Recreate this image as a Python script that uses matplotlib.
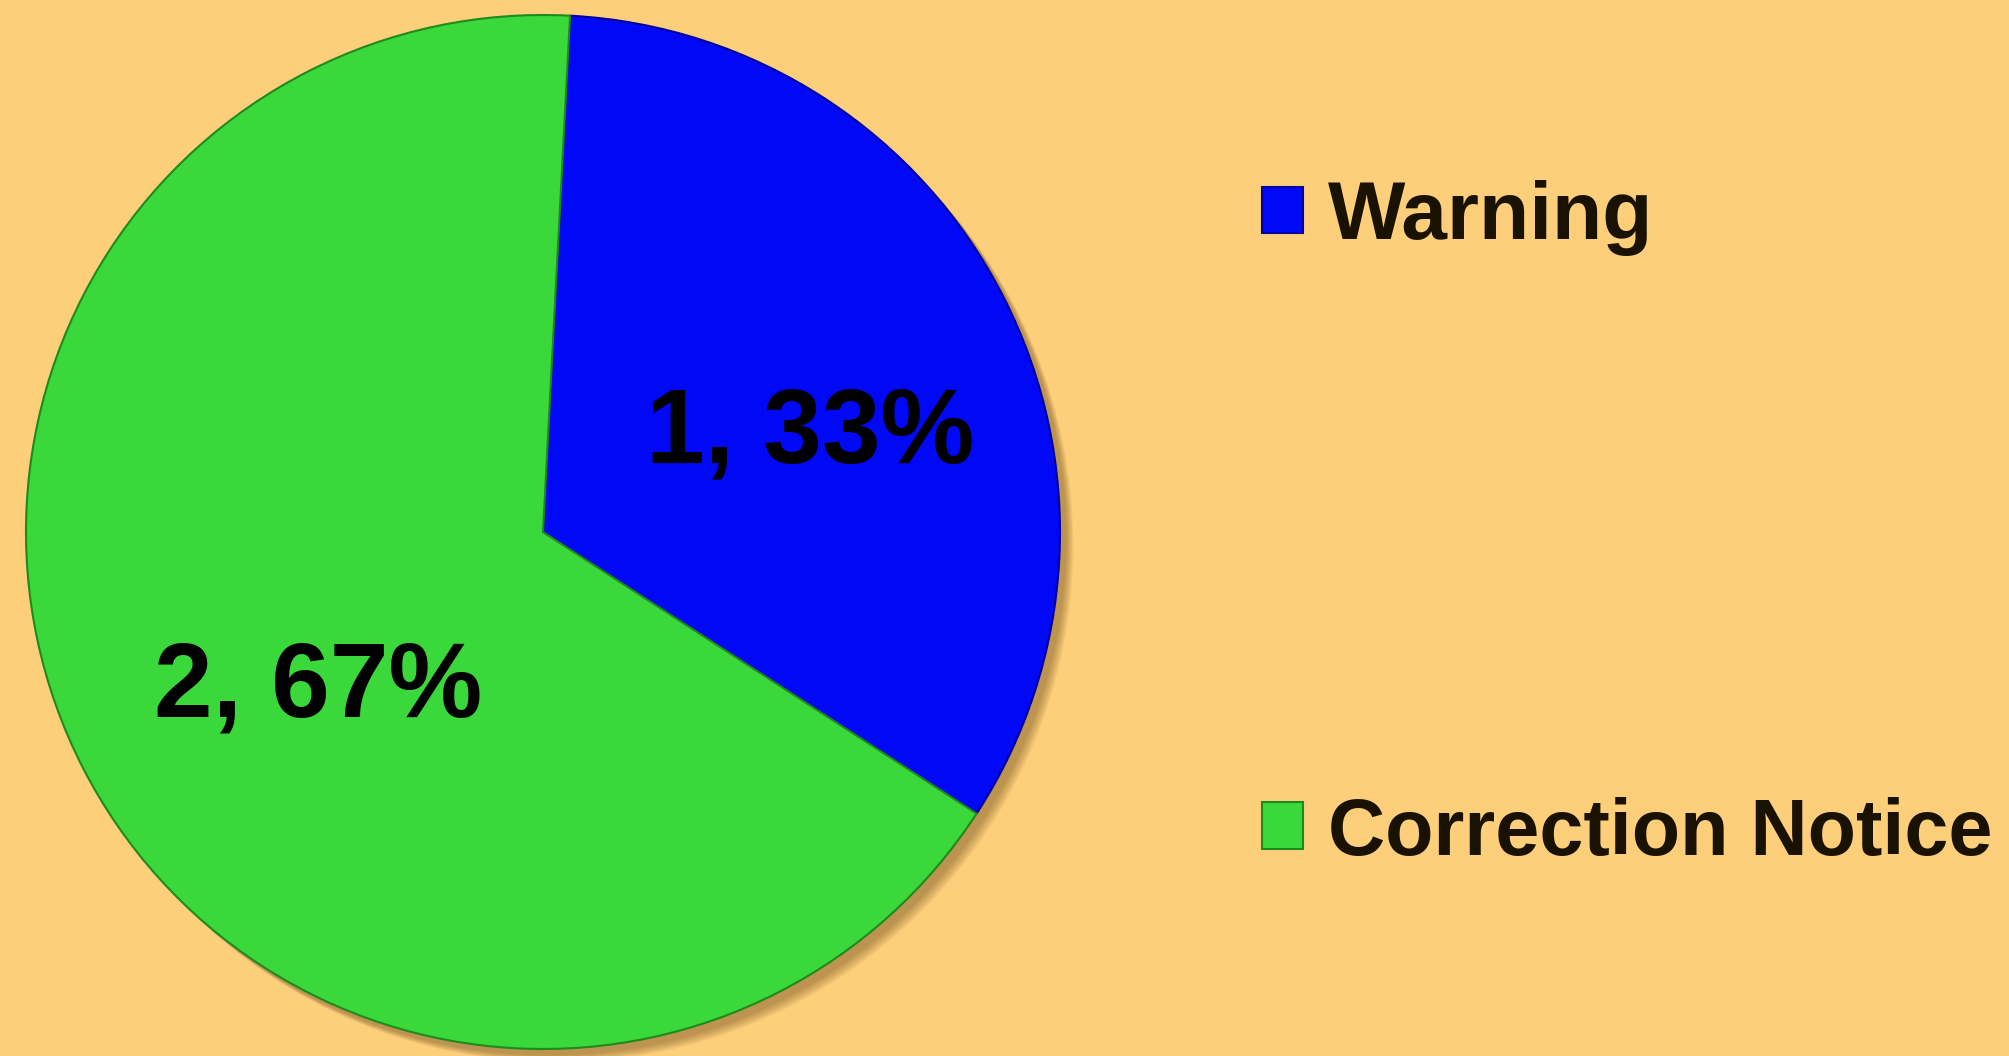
import numpy as np
import matplotlib
matplotlib.use("Agg")
from matplotlib import pyplot as plt
from matplotlib.patches import Circle

categories = ['Warning', 'Correction Notice']
counts = [1, 2]
colors = ['#0008F5', '#3AD83A']
edges = ['#0000A0', '#1E8A1E']

bg = '#FDCF7B'
ink = '#1A1200'

plt.rcParams['font.family'] = ['Liberation Sans', 'DejaVu Sans']

fig = plt.figure(figsize=(20.09, 10.56), dpi=100, facecolor=bg)
ax = fig.add_axes([26 / 2009, 7 / 1056, 1034 / 2009, 1034 / 1056])
ax.set_facecolor(bg)

# soft drop shadow under the pie
for i in range(8):
    ax.add_patch(Circle((0.012 + i * 0.002, -0.012 - i * 0.002), 1.0,
                        color='#5a3a10', alpha=0.06, zorder=0, lw=0,
                        clip_on=False))

total = sum(counts)
wedges, texts, autotexts = ax.pie(
    counts, colors=colors, startangle=87, counterclock=False,
    autopct=lambda p: '{:.0f}, {:.0f}%'.format(p * total / 100, p),
    pctdistance=0.56, radius=1.0,
    wedgeprops=dict(linewidth=1.5),
    textprops=dict(fontsize=76, fontweight='bold', color='black'))
for w, e in zip(wedges, edges):
    w.set_edgecolor(e)
    w.set_zorder(2)

# nudge the data labels the way the reference places them
label_shift = [-7, 8]
label_dist = [0.55, 0.53]
for w, t, s, d in zip(wedges, autotexts, label_shift, label_dist):
    ang = np.deg2rad((w.theta1 + w.theta2) / 2 + s)
    t.set_position((d * np.cos(ang), d * np.sin(ang)))
    t.set_zorder(3)

ax.set_xlim(-1.0, 1.0)
ax.set_ylim(-1.0, 1.0)
ax.set_aspect('equal')
ax.axis('off')

leg = fig.legend(wedges, categories, loc='upper left',
                 bbox_to_anchor=(1262 / 2009, 1 - 180 / 1056),
                 frameon=False, fontsize=59, handlelength=0.5,
                 handleheight=0.5, handletextpad=0.3, labelspacing=6.6,
                 borderpad=0, borderaxespad=0)
for t in leg.get_texts():
    t.set_color(ink)
    t.set_fontweight('bold')
# the second label is set tighter in the reference
leg.get_texts()[1].set_fontsize(57)

fig.savefig('out.png', dpi=100, facecolor=bg)
